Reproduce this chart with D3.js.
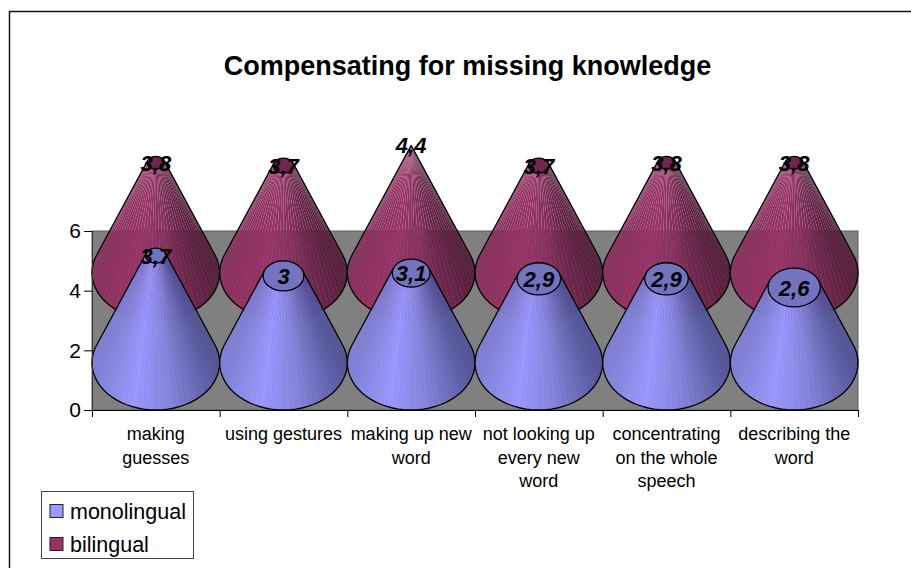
<!DOCTYPE html>
<html>
<head>
<meta charset="utf-8">
<script src="https://d3js.org/d3.v7.min.js"></script>
<style>
    body { margin: 0; background: #fff; }
    text { font-family: "Liberation Sans", Arial, sans-serif; fill: #000; }
</style>
</head>
<body>
<div id="chart"></div>
<script>
// cone chart, two series one behind the other

const categories = [
    ['making', 'guesses'],
    ['using gestures'],
    ['making up new', 'word'],
    ['not looking up', 'every new', 'word'],
    ['concentrating', 'on the whole', 'speech'],
    ['describing the', 'word']
];
const monolingual = [3.7, 3, 3.1, 2.9, 2.9, 2.6];
const bilingual = [3.8, 3.7, 4.4, 3.7, 3.8, 3.8];
const yTicks = [0, 2, 4, 6];
const seriesNames = ['monolingual', 'bilingual'];

const width = 911, height = 568;
const plot = {left: 92, right: 858, top: 231, bottom: 410};

const svg = d3.select('#chart').append('svg')
    .attr('width', width)
    .attr('height', height)
    .style('display', 'block');

// outer frame, right and bottom edges fall off the picture
svg.append('rect')
    .attr('x', 9.5).attr('y', 11.5)
    .attr('width', 920).attr('height', 600)
    .attr('fill', '#fff')
    .attr('stroke', '#111')
    .attr('stroke-width', 1.5);

svg.append('text')
    .attr('x', 467.5).attr('y', 75)
    .attr('text-anchor', 'middle')
    .style('font-size', '27px')
    .style('font-weight', 700)
    .text('Compensating for missing knowledge');

const xScale = d3.scaleBand()
    .domain(d3.range(categories.length))
    .range([plot.left, plot.right]);

const yScale = d3.scaleLinear()
    .domain([0, 6])
    .range([plot.bottom, plot.top]);

// plot wall
svg.append('rect')
    .attr('x', plot.left).attr('y', plot.top)
    .attr('width', plot.right - plot.left).attr('height', plot.bottom - plot.top)
    .attr('fill', '#808080')
    .attr('stroke', '#5c5c5c')
    .attr('stroke-width', 1);

// cone geometry
const coneTop = d3.max(bilingual);     // a cone comes to a point at this value
const radiusX = xScale.bandwidth() / 2;
const squash = 47 / 63.5;              // ellipse height / width
const radiusY = radiusX * squash;
const facets = 40;

const radiusScale = d3.scaleLinear().domain([0, coneTop]).range([radiusX, 0]);
// the perspective makes the cones a little shorter than the wall scale
const coneHeight = d3.scaleLinear().domain([0, 6]).range([0, (plot.bottom - plot.top) * 0.97]);

const capY = (v, depth) => yScale(0) - radiusY - depth - coneHeight(v);

function drawCones(values, depth, shades, capColor, seam) {

    const g = svg.append('g');

    values.forEach(function(v, i) {

        const cx = xScale(i) + xScale.bandwidth() / 2;
        const baseY = yScale(0) - radiusY - depth;
        const topY = capY(v, depth);
        const r = radiusScale(v);
        const ry = r * squash;

        // where the side of the cone leaves the base ellipse
        const t0 = Math.asin(-(radiusX - r) * squash / (baseY - topY));
        const angle = d3.scaleLinear().domain([0, facets]).range([Math.PI - t0, t0]);
        const shade = d3.scaleLinear().domain([-1, -0.35, 0.25, 1]).range(shades);

        const basePt = a => [cx + radiusX * Math.cos(a), baseY + radiusY * Math.sin(a)];
        const topPt = a => [cx + r * Math.cos(a), topY + ry * Math.sin(a)];

        // side facets, thin stroke hides most of the seams low down,
        // up near the tip the background still shows through
        d3.range(facets).forEach(function(k) {
            const a0 = angle(k), a1 = angle(k + 1);
            const c = shade(Math.cos((a0 + a1) / 2));
            g.append('path')
                .attr('d', d3.line()([basePt(a0), basePt(a1), topPt(a1), topPt(a0)]) + 'Z')
                .attr('fill', c)
                .attr('stroke', seam > 0 ? c : 'none')
                .attr('stroke-width', seam);
        });

        // outline
        const outline = d3.range(facets + 1).map(k => basePt(angle(k)));
        outline.push(topPt(angle(facets)));
        g.append('path')
            .attr('d', d3.line()(outline))
            .attr('fill', 'none')
            .attr('stroke', '#000')
            .attr('stroke-width', 1.3);
        g.append('path')
            .attr('d', d3.line()([topPt(angle(0)), basePt(angle(0))]))
            .attr('stroke', '#000')
            .attr('stroke-width', 1.3);

        // cap
        g.append('ellipse')
            .attr('cx', cx).attr('cy', topY)
            .attr('rx', r).attr('ry', ry)
            .attr('fill', capColor)
            .attr('stroke', '#000')
            .attr('stroke-width', 1.3);
    });
}

drawCones(bilingual, 90, ['#8a2f5e', '#993366', '#85305c', '#561d3b'], '#73264d', 0);
drawCones(monolingual, 0, ['#8080d5', '#9999ff', '#8585dd', '#545499'], '#7373bf', 0.3);

// axes
const yAxis = d3.axisLeft(yScale).tickValues(yTicks).tickSize(8).tickPadding(3).tickFormat(d3.format('d'));
const yAxisGroup = svg.append('g')
    .attr('transform', `translate(${plot.left}, 0)`)
    .call(yAxis);
yAxisGroup.select('.domain').attr('stroke', '#333');
yAxisGroup.selectAll('text').style('font-size', '21px').attr('font-family', null);

const xAxis = d3.axisBottom(d3.scaleLinear().domain([0, categories.length]).range([plot.left, plot.right]))
    .ticks(categories.length)
    .tickSize(7)
    .tickSizeOuter(7)
    .tickFormat('');
svg.append('g')
    .attr('transform', `translate(0, ${plot.bottom})`)
    .call(xAxis);

// category labels
svg.append('g').selectAll('text')
    .data(categories)
    .join('text')
    .attr('text-anchor', 'middle')
    .style('font-size', '18px')
    .each(function(lines, i) {
        d3.select(this).selectAll('tspan')
            .data(lines)
            .join('tspan')
            .attr('x', xScale(i) + xScale.bandwidth() / 2)
            .attr('y', (d, j) => 440 + j * 23.7)
            .text(d => d);
    });

// value labels, sit on the caps
function drawLabels(values, depth) {
    svg.append('g').selectAll('text')
        .data(values)
        .join('text')
        .attr('x', (d, i) => xScale(i) + xScale.bandwidth() / 2)
        .attr('y', d => capY(d, depth) + 8)
        .attr('text-anchor', 'middle')
        .style('font-size', '22px')
        .style('font-weight', 700)
        .style('font-style', 'italic')
        .text(d => String(d).replace('.', ','));
}

drawLabels(bilingual, 90);
drawLabels(monolingual, 0);

// legend
const legend = svg.append('g');
legend.append('rect')
    .attr('x', 41.5).attr('y', 491.5)
    .attr('width', 152).attr('height', 67)
    .attr('fill', '#fff')
    .attr('stroke', '#444');

const legendY = d3.scalePoint().domain(seriesNames).range([511, 544]);
const legendColor = d3.scaleOrdinal().domain(seriesNames).range(['#9999ff', '#993366']);

legend.selectAll('.swatch')
    .data(seriesNames)
    .join('rect')
    .attr('class', 'swatch')
    .attr('x', 50).attr('y', d => legendY(d) - 6.5)
    .attr('width', 13).attr('height', 13)
    .attr('fill', d => legendColor(d))
    .attr('stroke', '#222');

legend.selectAll('.label')
    .data(seriesNames)
    .join('text')
    .attr('class', 'label')
    .attr('x', 70).attr('y', d => legendY(d) + 7.5)
    .style('font-size', '21.5px')
    .text(d => d);
</script>
</body>
</html>
